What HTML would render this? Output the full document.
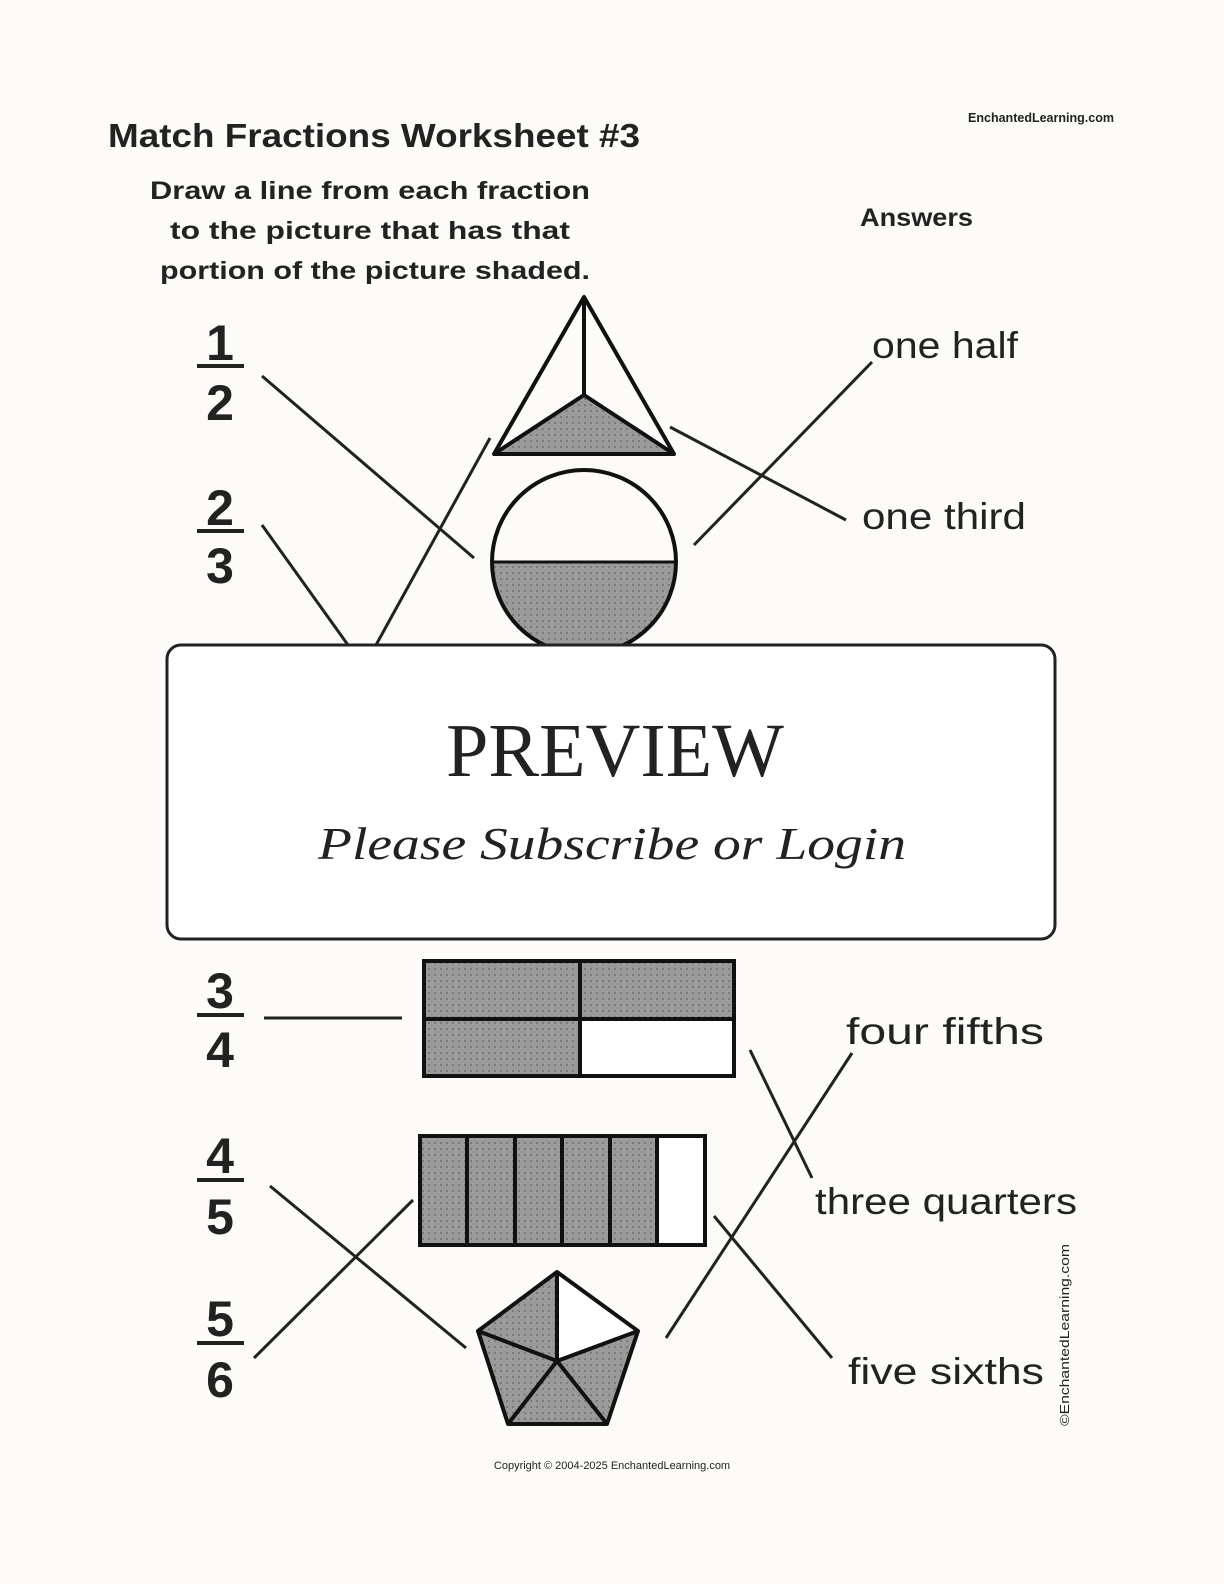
<!DOCTYPE html>
<html><head><meta charset="utf-8"><style>
html,body{margin:0;padding:0;background:#fcfbf7;}
svg{display:block}
text{font-family:"Liberation Sans",sans-serif;fill:#222}
.serif{font-family:"Liberation Serif",serif}
</style></head><body>
<svg width="1224" height="1584" viewBox="0 0 1224 1584" xmlns="http://www.w3.org/2000/svg">
<defs>
<pattern id="dots" width="6" height="6" patternUnits="userSpaceOnUse">
<rect width="6" height="6" fill="#9a9a9a"/><circle cx="3" cy="3" r="0.8" fill="#555"/>
</pattern>
</defs>
<rect width="1224" height="1584" fill="#fcfbf7"/>
<text x="108" y="147" font-size="33" font-weight="bold" fill="#333" textLength="532" lengthAdjust="spacingAndGlyphs">Match Fractions Worksheet #3</text>
<text x="968" y="122" font-size="13" font-weight="bold" textLength="146" lengthAdjust="spacingAndGlyphs">EnchantedLearning.com</text>
<g font-size="25" font-weight="bold">
<text x="150" y="199" textLength="440" lengthAdjust="spacingAndGlyphs">Draw a line from each fraction</text>
<text x="170" y="239" textLength="400" lengthAdjust="spacingAndGlyphs">to the picture that has that</text>
<text x="160" y="279" textLength="430" lengthAdjust="spacingAndGlyphs">portion of the picture shaded.</text>
</g>
<text x="860" y="226" font-size="25" font-weight="bold" textLength="113" lengthAdjust="spacingAndGlyphs">Answers</text>

<g font-size="50" font-weight="bold" text-anchor="middle" fill="#222">
<text x="220" y="360">1</text><text x="220" y="420">2</text>
<text x="220" y="525">2</text><text x="220" y="583">3</text>
<text x="220" y="1008">3</text><text x="220" y="1067">4</text>
<text x="220" y="1173">4</text><text x="220" y="1234">5</text>
<text x="220" y="1336">5</text><text x="220" y="1397">6</text>
</g>
<g stroke="#222" stroke-width="4">
<line x1="197" y1="366" x2="244" y2="366"/>
<line x1="197" y1="531" x2="244" y2="531"/>
<line x1="197" y1="1015" x2="244" y2="1015"/>
<line x1="197" y1="1180" x2="244" y2="1180"/>
<line x1="197" y1="1343" x2="244" y2="1343"/>
</g>

<polygon points="494,454 584,395 674,454" fill="url(#dots)"/>
<g stroke="#111" stroke-width="4" fill="none" stroke-linejoin="round">
<polygon points="584,297 494,454 674,454"/>
<line x1="584" y1="297" x2="584" y2="395"/>
<line x1="494" y1="454" x2="584" y2="395"/>
<line x1="674" y1="454" x2="584" y2="395"/>
</g>
<path d="M492,562 A92,92 0 0 0 676,562 Z" fill="url(#dots)"/>
<circle cx="584" cy="562" r="92" fill="none" stroke="#111" stroke-width="4"/>
<line x1="492" y1="562" x2="676" y2="562" stroke="#111" stroke-width="3"/>

<g stroke="#222" stroke-width="3">
<line x1="262" y1="376" x2="474" y2="558"/>
<line x1="262" y1="525" x2="348" y2="645"/>
<line x1="490" y1="438" x2="376" y2="645"/>
<line x1="670" y1="427" x2="846" y2="520"/>
<line x1="694" y1="545" x2="872" y2="362"/>
</g>
<g font-size="37">
<text x="872" y="358" textLength="146" lengthAdjust="spacingAndGlyphs">one half</text>
<text x="862" y="529" textLength="164" lengthAdjust="spacingAndGlyphs">one third</text>
<text x="846" y="1044" textLength="198" lengthAdjust="spacingAndGlyphs">four fifths</text>
<text x="815" y="1214" textLength="262" lengthAdjust="spacingAndGlyphs">three quarters</text>
<text x="848" y="1384" textLength="196" lengthAdjust="spacingAndGlyphs">five sixths</text>
</g>

<rect x="167" y="645" width="888" height="294" rx="14" fill="#fff" stroke="#222" stroke-width="3"/>
<text x="615" y="776" font-size="76" text-anchor="middle" class="serif">PREVIEW</text>
<text x="318" y="859" font-size="46" font-style="italic" class="serif" textLength="588" lengthAdjust="spacingAndGlyphs">Please Subscribe or Login</text>

<rect x="424" y="961" width="156" height="58" fill="url(#dots)"/>
<rect x="580" y="961" width="154" height="58" fill="url(#dots)"/>
<rect x="424" y="1019" width="156" height="57" fill="url(#dots)"/>
<rect x="580" y="1019" width="154" height="57" fill="#fff"/>
<g stroke="#111" stroke-width="4" fill="none">
<rect x="424" y="961" width="310" height="115"/>
<line x1="580" y1="961" x2="580" y2="1076"/>
<line x1="424" y1="1019" x2="734" y2="1019"/>
</g>
<rect x="420" y="1136" width="237" height="109" fill="url(#dots)"/>
<rect x="657" y="1136" width="48" height="109" fill="#fff"/>
<g stroke="#111" stroke-width="4" fill="none">
<rect x="420" y="1136" width="285" height="109"/>
<line x1="467" y1="1136" x2="467" y2="1245"/>
<line x1="515" y1="1136" x2="515" y2="1245"/>
<line x1="562" y1="1136" x2="562" y2="1245"/>
<line x1="610" y1="1136" x2="610" y2="1245"/>
<line x1="657" y1="1136" x2="657" y2="1245"/>
</g>
<polygon points="557,1272 638,1331 607,1424 508,1424 478,1331" fill="url(#dots)"/>
<polygon points="557,1272 638,1331 557,1361" fill="#fff"/>
<g stroke="#111" stroke-width="4" fill="none" stroke-linejoin="round">
<polygon points="557,1272 638,1331 607,1424 508,1424 478,1331"/>
<line x1="557" y1="1361" x2="557" y2="1272"/>
<line x1="557" y1="1361" x2="638" y2="1331"/>
<line x1="557" y1="1361" x2="607" y2="1424"/>
<line x1="557" y1="1361" x2="508" y2="1424"/>
<line x1="557" y1="1361" x2="478" y2="1331"/>
</g>
<g stroke="#222" stroke-width="3">
<line x1="264" y1="1018" x2="402" y2="1018"/>
<line x1="750" y1="1050" x2="812" y2="1178"/>
<line x1="852" y1="1053" x2="666" y2="1338"/>
<line x1="270" y1="1186" x2="466" y2="1348"/>
<line x1="413" y1="1200" x2="254" y2="1358"/>
<line x1="714" y1="1216" x2="832" y2="1358"/>
</g>
<text transform="translate(1069,1426) rotate(-90)" font-size="13" textLength="182" lengthAdjust="spacingAndGlyphs">©EnchantedLearning.com</text>
<text x="612" y="1469" font-size="11" text-anchor="middle">Copyright © 2004-2025 EnchantedLearning.com</text>
</svg>
</body></html>
